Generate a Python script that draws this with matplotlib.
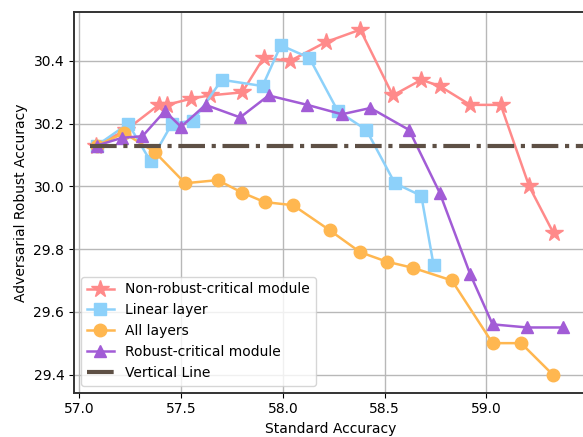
import matplotlib
matplotlib.use("Agg")
import matplotlib.pyplot as plt

# --- dados ---
nr_x = [57.08, 57.23, 57.39, 57.43, 57.55, 57.64, 57.80, 57.905, 58.035, 58.21, 58.38,
        58.54, 58.68, 58.77, 58.92, 59.07, 59.21, 59.33]
nr_y = [30.13, 30.18, 30.26, 30.26, 30.28, 30.29, 30.30, 30.41, 30.40, 30.46, 30.50,
        30.29, 30.34, 30.32, 30.26, 30.26, 30.00, 29.85]

lin_x = [57.085, 57.24, 57.35, 57.455, 57.56, 57.70, 57.90, 57.99, 58.13, 58.27, 58.41,
         58.55, 58.68, 58.74]
lin_y = [30.13, 30.20, 30.08, 30.20, 30.21, 30.34, 30.32, 30.45, 30.41, 30.24, 30.18,
         30.01, 29.97, 29.75]

all_x = [57.085, 57.22, 57.37, 57.52, 57.68, 57.80, 57.91, 58.05, 58.23, 58.38, 58.51,
         58.64, 58.83, 59.03, 59.17, 59.325]
all_y = [30.13, 30.17, 30.11, 30.01, 30.02, 29.98, 29.95, 29.94, 29.86, 29.79, 29.76,
         29.74, 29.70, 29.50, 29.50, 29.40]

rob_x = [57.085, 57.21, 57.31, 57.42, 57.50, 57.62, 57.79, 57.93, 58.12, 58.29, 58.43,
         58.62, 58.77, 58.92, 59.03, 59.20, 59.375]
rob_y = [30.13, 30.155, 30.16, 30.24, 30.19, 30.26, 30.22, 30.29, 30.26, 30.23, 30.25,
         30.18, 29.98, 29.72, 29.56, 29.55, 29.55]

linha_x = [57.05, 59.6]
linha_y = [30.13, 30.13]

# --- figura ---
fig = plt.figure(figsize=(5.83, 4.37), dpi=100)
ax = fig.add_axes([0.127, 0.1014, 0.882, 0.871])

ax.plot(nr_x, nr_y, marker='*', color='#FF8A8A', markersize=13, linewidth=1.8,
        label='Non-robust-critical module')
ax.plot(lin_x, lin_y, marker='s', color='#8DD1FA', markersize=9, linewidth=1.8,
        label='Linear layer')
ax.plot(all_x, all_y, marker='o', color='#FFB750', markersize=9, linewidth=1.8,
        label='All layers')
ax.plot(rob_x, rob_y, marker='^', color='#A25CD6', markersize=9, linewidth=1.8,
        label='Robust-critical module')
ax.plot(linha_x, linha_y, linestyle='-.', color='#5E5045', linewidth=3,
        label='Vertical Line')

ax.set_xlim(56.974, 59.50)
ax.set_ylim(29.342, 30.556)
ax.set_xticks([57.0, 57.5, 58.0, 58.5, 59.0])
ax.set_yticks([29.4, 29.6, 29.8, 30.0, 30.2, 30.4])

# grade e bordas
ax.grid(True, color='#b8b8b8', linewidth=1.0)
ax.set_axisbelow(True)
for lado in ['left', 'bottom', 'top']:
    ax.spines[lado].set_color('#333333')
    ax.spines[lado].set_linewidth(1.4)
ax.spines['right'].set_visible(False)

ax.set_xlabel('Standard Accuracy', fontsize=10)
ax.set_ylabel('Adversarial Robust Accuracy', fontsize=10)
ax.tick_params(labelsize=10)

ax.legend(loc='lower left', fontsize=10)

fig.savefig('out.png', dpi=100)
